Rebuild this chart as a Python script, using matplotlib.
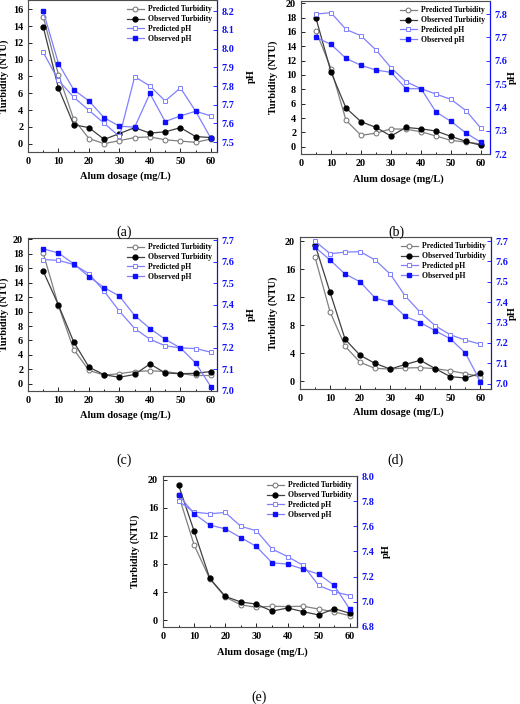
import matplotlib
matplotlib.use('Agg')
import matplotlib.pyplot as plt
import numpy as np

plt.rcParams['font.family'] = ['Liberation Serif', 'DejaVu Serif']
plt.rcParams['font.weight'] = 'bold'

dose = [5, 10, 15, 20, 25, 30, 35, 40, 45, 50, 55, 60]

# panel (a)
pred_turb_a = [15.1, 8.2, 2.9, 0.6, 0.0, 0.35, 0.72, 0.8, 0.45, 0.3, 0.15, 0.55]
obs_turb_a = [13.9, 6.6, 2.25, 1.9, 0.5, 1.2, 1.9, 1.25, 1.4, 1.9, 0.84, 0.72]
pred_ph_a = [7.98, 7.83, 7.74, 7.67, 7.60, 7.53, 7.85, 7.80, 7.72, 7.79, 7.665, 7.64]
obs_ph_a = [8.20, 7.92, 7.78, 7.72, 7.63, 7.585, 7.58, 7.76, 7.61, 7.64, 7.665, 7.52]

# panel (b)
pred_turb_b = [16.1, 10.9, 3.7, 1.6, 1.9, 2.5, 2.45, 2.1, 1.5, 0.9, 0.65, 0.4]
obs_turb_b = [17.9, 10.4, 5.4, 3.5, 2.7, 1.5, 2.7, 2.5, 2.2, 1.45, 0.75, 0.2]
pred_ph_b = [7.80, 7.806, 7.734, 7.707, 7.646, 7.57, 7.51, 7.48, 7.457, 7.434, 7.386, 7.31]
obs_ph_b = [7.70, 7.67, 7.61, 7.58, 7.56, 7.55, 7.48, 7.48, 7.38, 7.34, 7.29, 7.25]

# panel (c)
pred_turb_c = [18.1, 10.8, 4.75, 1.85, 1.2, 1.4, 1.7, 1.8, 1.7, 1.4, 1.15, 1.15]
obs_turb_c = [15.6, 10.9, 5.8, 2.3, 1.25, 0.9, 1.3, 2.75, 1.5, 1.4, 1.45, 1.7]
pred_ph_c = [7.61, 7.606, 7.587, 7.544, 7.463, 7.37, 7.29, 7.24, 7.21, 7.20, 7.197, 7.18]
obs_ph_c = [7.66, 7.64, 7.59, 7.53, 7.48, 7.44, 7.35, 7.29, 7.24, 7.20, 7.13, 7.02]

# panel (d)
pred_turb_d = [17.7, 9.9, 5.0, 2.7, 1.85, 1.75, 1.9, 1.95, 1.8, 1.5, 1.1, 0.66]
obs_turb_d = [19.5, 12.7, 6.0, 3.7, 2.55, 1.75, 2.4, 3.0, 1.8, 0.66, 0.47, 1.14]
pred_ph_d = [7.70, 7.638, 7.646, 7.648, 7.607, 7.538, 7.43, 7.35, 7.284, 7.24, 7.214, 7.194]
obs_ph_d = [7.67, 7.607, 7.538, 7.50, 7.42, 7.40, 7.33, 7.30, 7.26, 7.22, 7.15, 7.01]

# panel (e)
pred_turb_e = [17.8, 10.7, 5.9, 3.3, 2.2, 1.85, 2.0, 1.95, 2.0, 1.6, 1.2, 0.65]
obs_turb_e = [19.2, 12.65, 5.97, 3.4, 2.6, 2.3, 1.3, 1.75, 1.23, 0.76, 1.66, 1.0]
pred_ph_e = [7.80, 7.713, 7.70, 7.71, 7.60, 7.565, 7.42, 7.36, 7.29, 7.13, 7.08, 7.05]
obs_ph_e = [7.85, 7.70, 7.61, 7.58, 7.51, 7.44, 7.31, 7.30, 7.26, 7.22, 7.13, 6.94]

W, H = 520, 704
fig = plt.figure(figsize=(5.2, 7.04), dpi=100)

BLUE = '#1010ff'
LBLUE = '#8080ff'


def panel(box, pt, ot, pp, op, xmax, ylim, yticks, ylim2, yticks2, ylab_x, ph_x, xlab_y, tag, tag_xy):
    l, r, t, b = box
    ax = fig.add_axes([l / W, 1 - b / H, (r - l) / W, (b - t) / H])
    ax2 = ax.twinx()
    ax.plot(dose, pt, '-o', color='#808080', mfc='white', mec='#707070', ms=3.5, lw=0.9, mew=0.7,
            label='Predicted Turbidity')
    ax.plot(dose, ot, '-o', color='#404040', mfc='black', mec='black', ms=3.5, lw=0.9,
            label='Observed Turbidity')
    ax2.plot(dose, pp, '-s', color=LBLUE, mfc='white', mec=LBLUE, ms=3.5, lw=0.9, mew=0.7,
             label='Predicted pH')
    ax2.plot(dose, op, '-s', color=LBLUE, mfc=BLUE, mec=BLUE, ms=3.5, lw=0.9,
             label='Observed pH')
    ax.set_xlim(0, xmax)
    ax.set_ylim(*ylim)
    ax.set_yticks(yticks)
    ax2.set_ylim(*ylim2)
    ax2.set_yticks(yticks2)
    ax2.set_yticklabels(['%.1f' % v for v in yticks2])
    ax.set_xticks(range(0, 61, 10))
    ax.set_xticks(range(5, 61, 10), minor=True)
    ax.tick_params(axis='both', which='both', direction='in', labelsize=7.3, length=3, width=0.6)
    ax.tick_params(axis='x', which='minor', length=1.8)
    ax2.tick_params(axis='y', direction='in', labelsize=7.3, length=3, width=0.6,
                    colors=BLUE, labelcolor=BLUE)
    for s in ['left', 'top', 'bottom']:
        ax2.spines[s].set_color('#505050')
        ax2.spines[s].set_linewidth(0.7)
    ax2.spines['right'].set_color(BLUE)
    ax2.spines['right'].set_linewidth(0.8)
    for lab in ax.get_xticklabels() + ax.get_yticklabels() + ax2.get_yticklabels():
        lab.set_fontweight('bold')
    ax.set_ylabel('Turbidity (NTU)', fontsize=7.5, fontweight='bold')
    ax.yaxis.set_label_coords((ylab_x - l) / (r - l), 0.5)
    ax2.set_ylabel('pH', fontsize=7.5, fontweight='bold')
    ax2.yaxis.set_label_coords((ph_x - l) / (r - l), 0.5)
    fig.text((l + r) / 2 / W + 0.005, 1 - xlab_y / H, 'Alum dosage (mg/L)', fontsize=7.5,
             fontweight='bold', ha='center', va='center')
    fig.text(tag_xy[0] / W, 1 - tag_xy[1] / H, tag, fontsize=10, fontweight='normal',
             ha='center', va='center')
    h1, l1 = ax.get_legend_handles_labels()
    h2, l2 = ax2.get_legend_handles_labels()
    ax2.legend(h1 + h2, l1 + l2, loc='upper right', frameon=False,
               prop={'size': 5.5, 'weight': 'bold'}, handlelength=2.2,
               labelspacing=0.25, borderaxespad=0.3, handletextpad=0.5)
    return ax, ax2


panel((28, 217, 0, 152), pred_turb_a, obs_turb_a, pred_ph_a, obs_ph_a, 62,
      (-1, 17.1), range(0, 17, 2), (7.447, 8.26), np.arange(7.5, 8.25, 0.1),
      8.5, 247, 176, '(a)', (124, 232))
panel((301, 490, 1, 154), pred_turb_b, obs_turb_b, pred_ph_b, obs_ph_b, 63,
      (-1, 20.3), range(0, 21, 2), (7.2, 7.856), np.arange(7.2, 7.85, 0.1),
      278, 508, 179, '(b)', (396, 232))
panel((28, 217, 238, 391), pred_turb_c, obs_turb_c, pred_ph_c, obs_ph_c, 62,
      (-1, 20.2), range(0, 21, 2), (7.0, 7.71), np.arange(7.0, 7.75, 0.1),
      8.5, 247, 415, '(c)', (124, 460))
panel((300, 491, 237, 389), pred_turb_d, obs_turb_d, pred_ph_d, obs_ph_d, 63.5,
      (-1.1, 20.6), range(0, 21, 4), (6.974, 7.72), np.arange(7.0, 7.75, 0.1),
      278, 508, 412, '(d)', (396, 460))
panel((163, 357, 476, 627), pred_turb_e, obs_turb_e, pred_ph_e, obs_ph_e, 62.3,
      (-0.95, 20.5), range(0, 21, 4), (6.8, 8.0), np.arange(6.8, 8.05, 0.2),
      140, 382, 652, '(e)', (259, 697))

fig.savefig('out.png', dpi=100)
